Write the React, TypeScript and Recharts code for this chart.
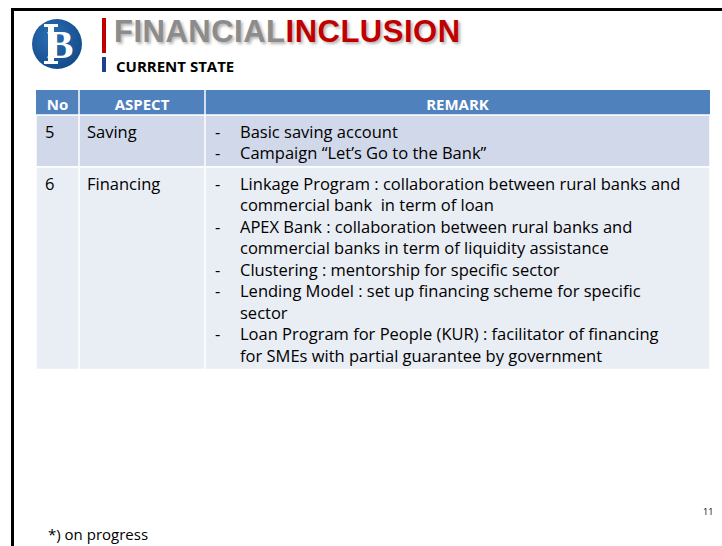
import React from 'react';
import { BarChart, Bar, XAxis, YAxis } from 'recharts';

// Table content
const headers = ['No', 'ASPECT', 'REMARK'];
const rowNumbers = ['5', '6'];
const aspects = ['Saving', 'Financing'];
const remarks: string[][][] = [
  [['Basic saving account'], ['Campaign \u201CLet\u2019s Go to the Bank\u201D']],
  [
    ['Linkage Program : collaboration between rural banks and', 'commercial bank  in term of loan'],
    ['APEX Bank : collaboration between rural banks and', 'commercial banks in term of liquidity assistance'],
    ['Clustering : mentorship for specific sector'],
    ['Lending Model : set up financing scheme for specific', 'sector'],
    ['Loan Program for People (KUR) : facilitator of financing', 'for SMEs with partial guarantee by government'],
  ],
];

const LINE_H = 21.5;
const HEADER_H = 25;
const ROW_PAD = 9;
const PAD_TOP = 5.5;
const COL_W = [43, 126, 505];
const TABLE_W = COL_W[0] + COL_W[1] + COL_W[2];

const rowHeights = remarks.map(r => r.reduce((n, b) => n + b.length, 0) * LINE_H + ROW_PAD);
const chartData = [{ name: 'table', header: HEADER_H, r0: rowHeights[0], r1: rowHeights[1] }];
const total = HEADER_H + rowHeights[0] + rowHeights[1];

const FONT = '"Open Sans", sans-serif';
const FS = 16.5;
const ROW_FILLS = ['#D0D8E9', '#E9EDF4'];

const colX = [0, COL_W[0], COL_W[0] + COL_W[1]];

const norm = (p: any) => {
  const top = Math.min(p.y, p.y + p.height);
  return { x: p.x, top, w: p.width, h: Math.abs(p.height) };
};

const HeaderShape = (props: any) => {
  const { x, top, w, h } = norm(props);
  return (
    <g>
      <rect x={x} y={top} width={w} height={h} fill="#4F81BD" />
      {[1, 2].map(i => (
        <line key={i} x1={x + colX[i]} x2={x + colX[i]} y1={top} y2={top + h} stroke="#fff" strokeWidth={1.5} />
      ))}
      {headers.map((t, i) => (
        <text key={t} x={x + colX[i] + COL_W[i] / 2} y={top + h / 2 + 1} textAnchor="middle"
          dominantBaseline="central" fill="#fff" fontFamily={FONT} fontWeight={700} fontSize={15}>
          {t}
        </text>
      ))}
    </g>
  );
};

const makeRowShape = (ri: number) => (props: any) => {
  const { x, top, w, h } = norm(props);
  const lineY = (i: number) => top + PAD_TOP + LINE_H / 2 + i * LINE_H;
  let li = 0;
  const items: React.ReactNode[] = [];
  remarks[ri].forEach((bullet, bi) => {
    items.push(
      <text key={`d${bi}`} x={x + colX[2] + 10} y={lineY(li)} dominantBaseline="central"
        fontFamily={FONT} fontSize={FS} fill="#000">-</text>
    );
    bullet.forEach((ln, k) => {
      items.push(
        <text key={`t${bi}-${k}`} x={x + colX[2] + 35} y={lineY(li)} dominantBaseline="central"
          fontFamily={FONT} fontSize={FS} fill="#000" style={{ whiteSpace: 'pre' }}>{ln}</text>
      );
      li++;
    });
  });
  return (
    <g>
      <rect x={x} y={top} width={w} height={h} fill={ROW_FILLS[ri]} stroke="#fff" strokeWidth={1.5} />
      {[1, 2].map(i => (
        <line key={i} x1={x + colX[i]} x2={x + colX[i]} y1={top} y2={top + h} stroke="#fff" strokeWidth={1.5} />
      ))}
      <text x={x + 9} y={lineY(0)} dominantBaseline="central" fontFamily={FONT} fontSize={FS}>{rowNumbers[ri]}</text>
      <text x={x + colX[1] + 8} y={lineY(0)} dominantBaseline="central" fontFamily={FONT} fontSize={FS}>{aspects[ri]}</text>
      {items}
    </g>
  );
};

const Logo = () => (
  <svg width={60} height={60} style={{ position: 'absolute', left: 27, top: 14 }}>
    <defs>
      <radialGradient id="lg" cx="40%" cy="35%" r="70%">
        <stop offset="0%" stopColor="#2D6FB5" />
        <stop offset="100%" stopColor="#124A8A" />
      </radialGradient>
    </defs>
    <circle cx={30} cy={30} r={25} fill="url(#lg)" />
    <text x={33} y={44} textAnchor="middle" fontFamily='"Liberation Serif", serif' fontWeight={700}
      fontSize={40} fill="#fff">B</text>
    <rect x={21} y={11} width={6} height={38} fill="#fff" />
    <rect x={17} y={10} width={14} height={3} fill="#fff" />
    <rect x={17} y={47} width={14} height={3} fill="#fff" />
  </svg>
);

export default function App() {
  return (
    <div style={{ position: 'absolute', left: 0, top: 0, width: 722, height: 546, overflow: 'hidden', background: '#fff' }}>
      <div style={{ position: 'absolute', left: 11, top: 8, width: 800, height: 600, borderTop: '3px solid #000', borderLeft: '3px solid #000' }} />
      <Logo />
      <div style={{ position: 'absolute', left: 102, top: 18, width: 4, height: 35, background: '#C00000' }} />
      <div style={{ position: 'absolute', left: 102, top: 57, width: 4, height: 15, background: '#1F3F8F' }} />
      <div style={{
        position: 'absolute', left: 114, top: 14, fontFamily: '"Liberation Sans", Arial, sans-serif', fontWeight: 700,
        fontSize: 31, letterSpacing: 0.5, lineHeight: '36px', textShadow: '2px 2px 3px rgba(0,0,0,0.3)', whiteSpace: 'nowrap',
      }}>
        <span style={{ color: '#8C8C8C' }}>FINANCIAL</span>
        <span style={{ color: '#C00000' }}>INCLUSION</span>
      </div>
      <div style={{ position: 'absolute', left: 116, top: 57, fontFamily: FONT, fontWeight: 700, fontSize: 15, lineHeight: '18px', color: '#000' }}>
        CURRENT STATE
      </div>
      <div style={{ position: 'absolute', left: 36, top: 90 }}>
        <BarChart width={TABLE_W} height={total} data={chartData} margin={{ top: 0, right: 0, bottom: 0, left: 0 }}
          barCategoryGap={0} barGap={0}>
          <XAxis dataKey="name" hide />
          <YAxis type="number" domain={[0, total]} reversed hide />
          <Bar dataKey="header" stackId="t" shape={HeaderShape} isAnimationActive={false} />
          <Bar dataKey="r0" stackId="t" shape={makeRowShape(0)} isAnimationActive={false} />
          <Bar dataKey="r1" stackId="t" shape={makeRowShape(1)} isAnimationActive={false} />
        </BarChart>
      </div>
      <div style={{ position: 'absolute', left: 48, top: 524, fontFamily: FONT, fontSize: 15, lineHeight: '20px' }}>
        *) on progress
      </div>
      <div style={{ position: 'absolute', left: 703, top: 506, fontFamily: FONT, fontSize: 9, lineHeight: '12px' }}>
        11
      </div>
    </div>
  );
}
